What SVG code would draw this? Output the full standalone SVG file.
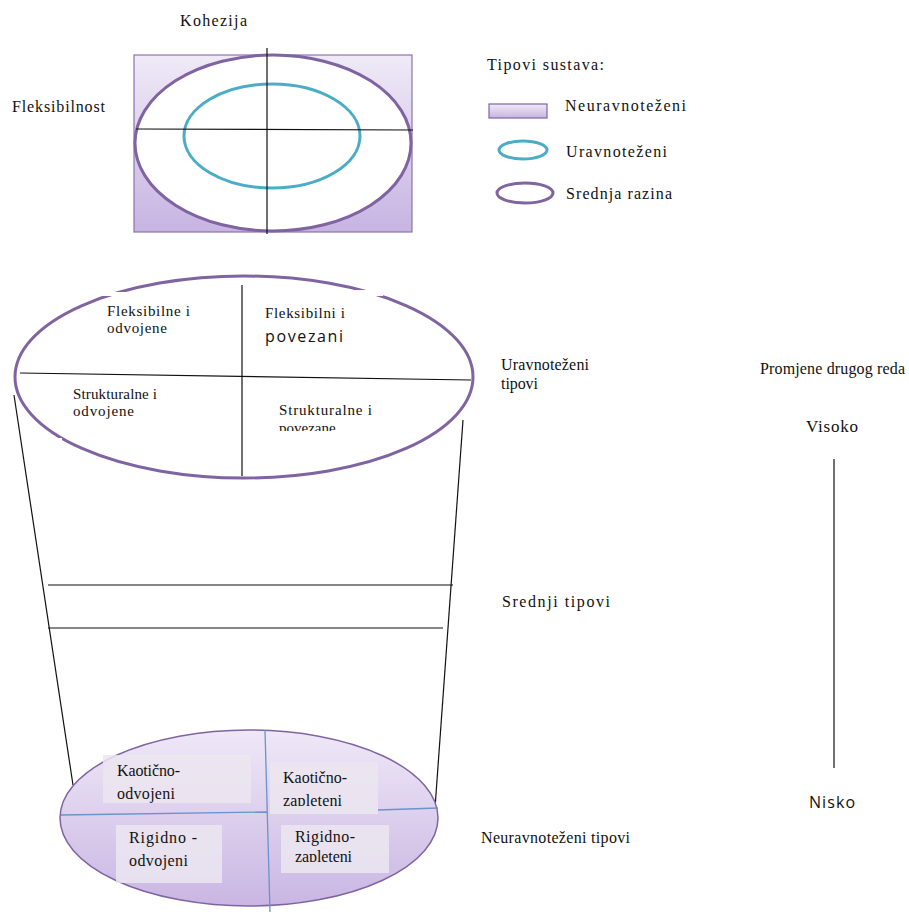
<svg xmlns="http://www.w3.org/2000/svg" width="909" height="916" viewBox="0 0 909 916">
<defs>
<linearGradient id="lav" x1="0" y1="0" x2="0" y2="1">
<stop offset="0" stop-color="#f0eaf7"/>
<stop offset="1" stop-color="#c7b4e2"/>
</linearGradient>
<linearGradient id="lav2" x1="0" y1="0" x2="0" y2="1">
<stop offset="0" stop-color="#efe8f7"/>
<stop offset="1" stop-color="#c9b6e3"/>
</linearGradient>
<clipPath id="c1"><rect x="270" y="400" width="120" height="31"/></clipPath>
<clipPath id="c2"><rect x="270" y="762" width="110" height="44"/></clipPath>
<clipPath id="c3"><rect x="281" y="825" width="110" height="37"/></clipPath>
</defs>
<style>
.t{font-family:"Liberation Serif","Times New Roman","DejaVu Serif",serif;font-size:16px;fill:#111}
.m{font-size:15px}
.s{font-family:"Open Sans","Noto Sans",sans-serif;font-size:16px;fill:#111}
.ln{stroke:#111;stroke-width:1.2;fill:none}
.bl{stroke:#6a93c9;stroke-width:1.3;fill:none}
.pu{stroke:#8064a2}
.box{fill:#ece6f0;opacity:0.85}
</style>

<g id="top-chart">
<rect x="134" y="55" width="278" height="177" fill="url(#lav)" stroke="#8a74ad" stroke-width="1.2"/>
<ellipse cx="273" cy="143" rx="138" ry="88" fill="#fff" class="pu" stroke-width="3"/>
<ellipse cx="272" cy="136" rx="88" ry="52" fill="none" stroke="#4bacc6" stroke-width="3"/>
<line x1="267" y1="48" x2="267" y2="234" class="ln"/>
<line x1="136" y1="129" x2="413" y2="130" class="ln"/>
<text class="t" x="180" y="26" textLength="67">Kohezija</text>
<text class="t" x="12" y="112" textLength="93">Fleksibilnost</text>
</g>

<g id="legend">
<text class="t" x="487" y="70" textLength="117">Tipovi sustava:</text>
<rect x="489" y="104" width="58" height="14" fill="url(#lav)" stroke="#8064a2" stroke-width="1.2"/>
<text class="t" x="565" y="111" textLength="121">Neuravnoteženi</text>
<ellipse cx="523" cy="150" rx="24" ry="9" fill="none" stroke="#4bacc6" stroke-width="3"/>
<text class="t" x="566" y="157" textLength="101">Uravnoteženi</text>
<ellipse cx="525" cy="193" rx="28" ry="10" fill="none" class="pu" stroke-width="3"/>
<text class="t" x="566" y="199" textLength="106">Srednja razina</text>
</g>

<g id="connectors">
<line x1="14" y1="395" x2="73" y2="785" class="ln" stroke-width="1"/>
<line x1="463" y1="420" x2="435" y2="808" class="ln" stroke-width="1"/>
<line x1="48" y1="585" x2="453" y2="585" class="ln"/>
<line x1="48" y1="628" x2="443" y2="628" class="ln"/>
</g>

<g id="balanced">
<ellipse cx="244" cy="377" rx="229" ry="101" fill="#fff" class="pu" stroke-width="3"/>
<rect x="60" y="292" width="170" height="4" fill="#fff"/>
<rect x="258" y="290" width="125" height="6" fill="#fff"/>
<rect x="48" y="438" width="14" height="8" fill="#fff"/>
<line x1="20" y1="373" x2="471" y2="380" class="ln"/>
<line x1="242" y1="285" x2="242" y2="476" class="ln"/>
<text class="t m" x="107" y="316" textLength="83">Fleksibilne i</text>
<text class="t m" x="107" y="333" textLength="60">odvojene</text>
<text class="t m" x="265" y="318" textLength="80">Fleksibilni i</text>
<text class="s" x="265" y="342" textLength="78">povezani</text>
<text class="t m" x="73" y="399" textLength="84">Strukturalne i</text>
<text class="t m" x="73" y="416" textLength="61">odvojene</text>
<text class="t m" x="279" y="415" textLength="93">Strukturalne i</text>
<text class="t m" x="279" y="433" clip-path="url(#c1)">povezane</text>
</g>

<g id="labels-right">
<text class="t" x="501" y="370" textLength="88">Uravnoteženi</text>
<text class="t" x="501" y="389" textLength="37">tipovi</text>
<text class="t" x="502" y="607" textLength="108">Srednji tipovi</text>
<text class="t" x="481" y="843" textLength="149">Neuravnoteženi tipovi</text>
<text class="t" x="760" y="374" textLength="145">Promjene drugog reda</text>
<text class="t" x="806" y="432" textLength="52" style="font-size:17px">Visoko</text>
<line x1="834" y1="459" x2="834" y2="768" class="ln"/>
<text class="s" x="809" y="808" textLength="46">Nisko</text>
</g>

<g id="unbalanced">
<ellipse cx="249" cy="818" rx="189" ry="88" fill="url(#lav2)" class="pu" stroke-width="1.5"/>
<line x1="265" y1="730" x2="270" y2="912" class="bl"/>
<line x1="61" y1="815" x2="267" y2="812" class="bl"/>
<line x1="378" y1="810" x2="438" y2="808" class="bl"/>
<rect class="box" x="103" y="755" width="148" height="48"/>
<rect class="box" x="270" y="762" width="108" height="52"/>
<rect class="box" x="116" y="825" width="106" height="58"/>
<rect class="box" x="281" y="825" width="108" height="48"/>
<text class="t" x="117" y="776" textLength="63">Kaotično-</text>
<text class="t" x="117" y="799" textLength="58">odvojeni</text>
<text class="t" x="283" y="783" textLength="64">Kaotično-</text>
<text class="t" x="283" y="806" textLength="59" clip-path="url(#c2)">zapleteni</text>
<text class="t" x="129" y="843" textLength="68">Rigidno -</text>
<text class="t" x="129" y="866" textLength="59">odvojeni</text>
<text class="t" x="295" y="842" textLength="60">Rigidno-</text>
<text class="t" x="295" y="862" textLength="57" clip-path="url(#c3)">zapleteni</text>
</g>
</svg>
